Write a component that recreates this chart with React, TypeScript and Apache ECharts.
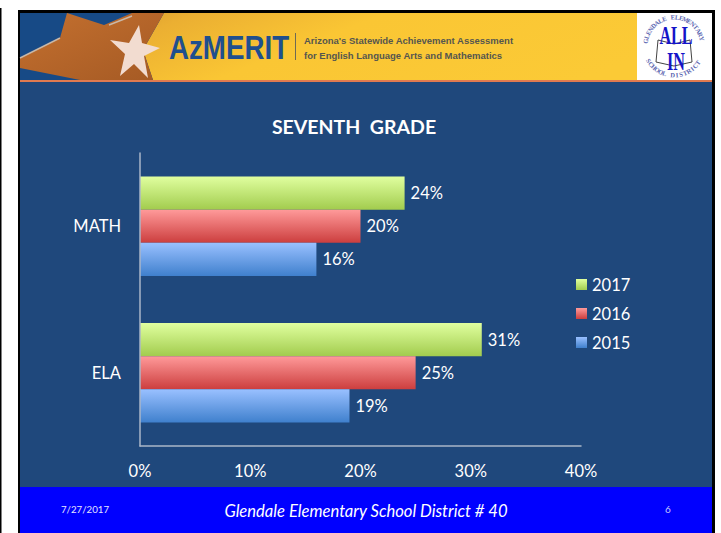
import React, { useEffect, useRef } from "react";
import * as echarts from "echarts";

const categories = ["ELA", "MATH"];
const values2015 = [19, 16];
const values2016 = [25, 20];
const values2017 = [31, 24];
const legendOrder = ["2017", "2016", "2015"];
const xTicks = [0, 10, 20, 30, 40];

const FONT = "Lato, Carlito, sans-serif";
const SLIDE = "#1f487c";

const vGrad = (a: string, b: string) => ({
  type: "linear", x: 0, y: 0, x2: 0, y2: 1,
  colorStops: [{ offset: 0, color: a }, { offset: 1, color: b }],
});

function barSeries(name: string, data: number[], a: string, b: string) {
  return {
    name, type: "bar", data, barGap: "0%", barCategoryGap: "32%", z: 15,
    itemStyle: { color: vGrad(a, b) },
    label: {
      show: true, position: "right", distance: 6, formatter: "{c}%",
      color: "#fff", fontFamily: FONT, fontSize: 16.5,
    },
  };
}

function ringText(text: string, cx: number, cy: number, r: number, startDeg: number, endDeg: number, bottom: boolean) {
  const chars = text.split("");
  return chars.map((ch, i) => {
    const deg = startDeg + ((endDeg - startDeg) * i) / (chars.length - 1);
    const rad = (deg * Math.PI) / 180;
    return {
      type: "text", z: 6,
      x: cx + r * Math.cos(rad), y: cy + r * Math.sin(rad),
      rotation: bottom ? -(rad - Math.PI / 2) : -(rad + Math.PI / 2),
      style: { text: ch, fill: "#5a64b0", font: "bold 6.5px 'Liberation Serif', serif", align: "center", verticalAlign: "middle" },
    };
  });
}

function decorations() {
  return [
    { type: "rect", z: 0, shape: { x: 0, y: 8, width: 1.5, height: 525 }, style: { fill: "#000" } },
    { type: "rect", z: 0, shape: { x: 18, y: 10, width: 697, height: 523 }, style: { fill: "#000" } },
    { type: "rect", z: 1, shape: { x: 20, y: 82, width: 692, height: 405 }, style: { fill: SLIDE } },
    { type: "rect", z: 1, shape: { x: 20, y: 487, width: 692, height: 46 }, style: { fill: "#0000ff" } },
    // banner
    { type: "rect", z: 2, shape: { x: 20, y: 13, width: 692, height: 67 }, style: { fill: {
      type: "linear", x: 0, y: 0, x2: 1, y2: 0.25,
      colorStops: [{ offset: 0, color: "#c98a2a" }, { offset: 0.24, color: "#ebaf32" }, { offset: 0.5, color: "#fac634" }, { offset: 1, color: "#fbca36" }],
    } } },
    { type: "rect", z: 2, shape: { x: 20, y: 80, width: 692, height: 2 }, style: { fill: "#e07a50" } },
    { type: "polygon", z: 3, shape: { points: [[20, 13], [164, 13], [143, 50], [153, 80], [20, 80]] }, style: { fill: "#174a86" } },
    { type: "polygon", z: 3, shape: { points: [[67, 13], [104, 25], [132, 13], [164, 13], [143, 50], [153, 80], [80, 80], [20, 68], [20, 58], [60, 38]] }, style: { fill: {
      type: "linear", x: 0, y: 0, x2: 1, y2: 1,
      colorStops: [{ offset: 0, color: "#c4702f" }, { offset: 1, color: "#a55a24" }],
    } } },
    { type: "polyline", z: 3, shape: { points: [[20, 58], [60, 38]] }, style: { stroke: "#c9b8a8", lineWidth: 1.5, fill: "none" } },
    { type: "polyline", z: 3, shape: { points: [[109, 25], [132, 16]] }, style: { stroke: "#c9b8a8", lineWidth: 1.5, fill: "none" } },
    { type: "polygon", z: 4, shape: { points: [[139, 25], [142, 43], [160, 48], [144, 56], [148, 78], [134, 64], [120, 76], [125, 54], [110, 40], [129, 43]] }, style: { fill: "#f2dcd0" } },
    { type: "text", z: 5, x: 169, y: 47, scaleX: 0.84, style: { text: "AzMERIT", fill: "#1f4f8e", font: "bold 33px 'Liberation Sans', sans-serif", verticalAlign: "middle" } },
    { type: "rect", z: 5, shape: { x: 295, y: 33, width: 1, height: 27 }, style: { fill: "#6e6a55" } },
    { type: "text", z: 5, x: 304, y: 40, style: { text: "Arizona's Statewide Achievement Assessment", fill: "#55564f", font: "bold 9.5px 'Liberation Sans', sans-serif", verticalAlign: "middle" } },
    { type: "text", z: 5, x: 304, y: 55, style: { text: "for English Language Arts and Mathematics", fill: "#55564f", font: "bold 9.5px 'Liberation Sans', sans-serif", verticalAlign: "middle" } },
    // district logo
    { type: "rect", z: 5, shape: { x: 637, y: 13, width: 75, height: 67 }, style: { fill: "#fff" } },
    ...ringText("GLENDALE ELEMENTARY", 674, 46, 29, 190, 345, false),
    ...ringText("SCHOOL DISTRICT", 674, 46, 29, 150, 35, true),
    { type: "polygon", z: 6, shape: { points: [[658, 40], [674, 44], [690, 40], [692, 62], [674, 66], [656, 62]] }, style: { fill: "none", stroke: "#444", lineWidth: 1 } },
    { type: "text", z: 7, x: 676, y: 36, scaleX: 0.62, style: { text: "ALL", fill: "#1414c8", font: "bold 26px 'Liberation Serif', serif", align: "center", verticalAlign: "middle" } },
    { type: "text", z: 7, x: 676, y: 62, scaleX: 0.62, style: { text: "IN", fill: "#1414c8", font: "bold 26px 'Liberation Serif', serif", align: "center", verticalAlign: "middle" } },
    // footer
    { type: "text", z: 5, x: 85, y: 509, style: { text: "7/27/2017", fill: "#e6e6ff", font: `9.7px ${FONT}`, align: "center", verticalAlign: "middle" } },
    { type: "text", z: 5, x: 366, y: 511, style: { text: "Glendale Elementary School District # 40", fill: "#fff", font: `italic 16.6px ${FONT}`, align: "center", verticalAlign: "middle" } },
    { type: "text", z: 5, x: 668, y: 509, style: { text: "6", fill: "#c8c8ff", font: `10px ${FONT}`, align: "center", verticalAlign: "middle" } },
  ];
}

export default function App() {
  const ref = useRef<HTMLDivElement>(null);
  useEffect(() => {
    const chart = echarts.init(ref.current!, undefined, { renderer: "svg" });
    chart.setOption({
      animation: false,
      backgroundColor: "#fff",
      title: {
        text: "SEVENTH  GRADE", left: 349, top: 111, textAlign: "center",
        textStyle: { color: "#fff", fontFamily: FONT, fontWeight: "bold", fontSize: 19.5 },
        z: 20,
      },
      grid: { left: 140, top: 153, width: 441, height: 293, containLabel: false },
      xAxis: {
        type: "value", min: xTicks[0], max: xTicks[xTicks.length - 1], interval: 10, z: 20,
        splitLine: { show: false },
        axisTick: { show: false },
        axisLine: { show: true, lineStyle: { color: "#aab6c8", width: 1.5 } },
        axisLabel: { margin: 16, color: "#fff", fontFamily: FONT, fontSize: 16.5, formatter: "{value}%" },
      },
      yAxis: {
        type: "category", data: categories, z: 20,
        axisTick: { show: false },
        axisLine: { show: true, lineStyle: { color: "#aab6c8", width: 1.5 } },
        axisLabel: { margin: 19, color: "#fff", fontFamily: FONT, fontSize: 16.5 },
      },
      legend: {
        data: legendOrder, orient: "vertical", left: 576, top: 276, itemWidth: 11, itemHeight: 11,
        itemGap: 12, icon: "rect", z: 20,
        textStyle: { color: "#fff", fontFamily: FONT, fontSize: 16.5, padding: [0, 0, 0, 0] },
        padding: 0,
      },
      series: [
        barSeries("2017", values2017, "#e0ff9f", "#a2cc4e"),
        barSeries("2016", values2016, "#ff9a9a", "#cc3e3e"),
        barSeries("2015", values2015, "#99c0ff", "#3f80cd"),
      ],
      graphic: { elements: decorations() },
    });
    return () => chart.dispose();
  }, []);
  return <div ref={ref} style={{ position: "absolute", left: 0, top: 0, width: 721, height: 533 }} />;
}
